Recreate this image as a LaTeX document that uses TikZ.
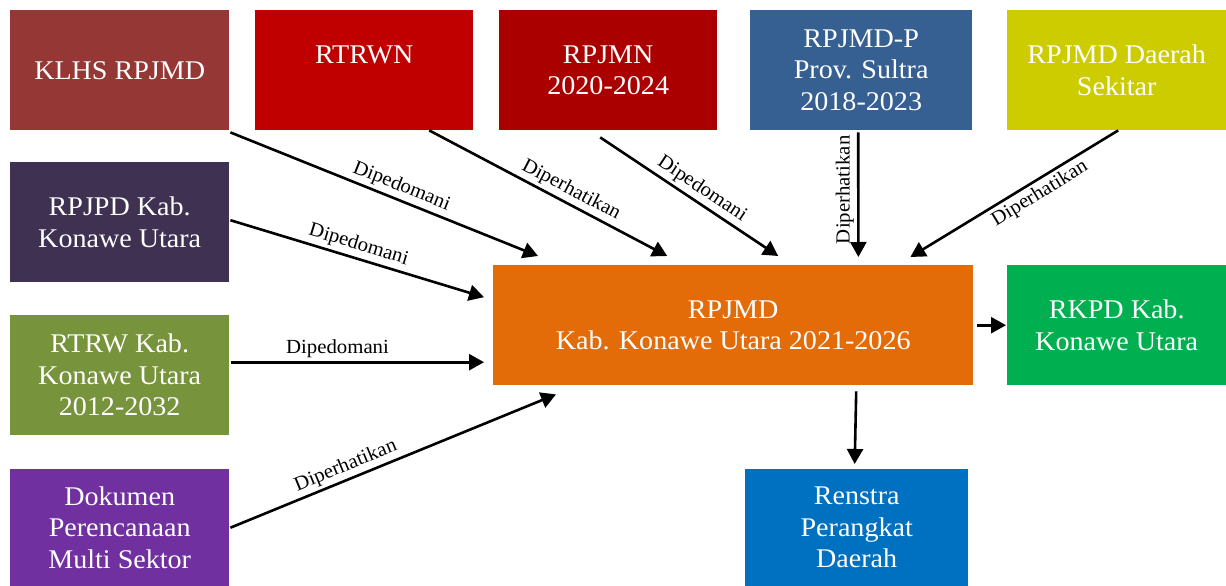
\documentclass[tikz,border=0pt]{standalone}
\usepackage{fontspec}
\setmainfont[FakeStretch=1.04]{Liberation Serif}
\usetikzlibrary{arrows.meta}
\definecolor{cklhs}{HTML}{953735}
\definecolor{crtrwn}{HTML}{C00000}
\definecolor{crpjmn}{HTML}{AA0000}
\definecolor{cprov}{HTML}{376092}
\definecolor{csekitar}{HTML}{CCCC00}
\definecolor{crpjpd}{HTML}{3F3151}
\definecolor{crtrw}{HTML}{77933C}
\definecolor{cdok}{HTML}{7030A0}
\definecolor{cmain}{HTML}{E36C09}
\definecolor{crkpd}{HTML}{00B050}
\definecolor{crenstra}{HTML}{0070C0}
\tikzset{
  docbox/.style={draw=none, text=white, inner sep=0pt, anchor=north west,
    align=center, font=\fontsize{27}{31.5}\selectfont},
  conn/.style={line width=2.6pt, -{Triangle[length=15pt,width=16pt]}},
  lbl/.style={font=\fontsize{20}{24}\selectfont, sloped, inner sep=3pt}
}
\begin{document}
\begin{tikzpicture}[x=1pt,y=-1pt]
\useasboundingbox (0,0) rectangle (1226,586);
% top row
\node[docbox, fill=cklhs, minimum width=219pt, minimum height=120pt] (klhs) at (10,10) {KLHS RPJMD};
\node[docbox, fill=crtrwn, minimum width=218pt, minimum height=120pt] (rtrwn) at (255,10) {RTRWN\\\mbox{}};
\node[docbox, fill=crpjmn, minimum width=218pt, minimum height=120pt] (rpjmn) at (499,10) {RPJMN\\2020-2024};
\node[docbox, fill=cprov, minimum width=222pt, minimum height=120pt] (prov) at (750,10) {RPJMD-P\\Prov. Sultra\\2018-2023};
\node[docbox, fill=csekitar, minimum width=219pt, minimum height=120pt] (sekitar) at (1007,10) {RPJMD Daerah\\Sekitar};
% left column
\node[docbox, fill=crpjpd, minimum width=219pt, minimum height=120pt] (rpjpd) at (10,162) {RPJPD Kab.\\Konawe Utara};
\node[docbox, fill=crtrw, minimum width=219pt, minimum height=120pt] (rtrw) at (10,315) {RTRW Kab.\\Konawe Utara\\2012-2032};
\node[docbox, fill=cdok, minimum width=219pt, minimum height=117pt] (dok) at (10,469) {Dokumen\\Perencanaan\\Multi Sektor};
% center and outputs
\node[docbox, fill=cmain, minimum width=480pt, minimum height=120pt] (main) at (493,265) {RPJMD\\Kab. Konawe Utara 2021-2026};
\node[docbox, fill=crkpd, minimum width=219pt, minimum height=120pt] (rkpd) at (1007,265) {RKPD Kab.\\Konawe Utara};
\node[docbox, fill=crenstra, minimum width=223pt, minimum height=117pt] (renstra) at (745,469) {Renstra\\Perangkat\\Daerah};
% connectors
\draw[conn] ([xshift=1pt,yshift=-2pt]klhs.south east) -- node[lbl, pos=0.54, above] {Dipedomani} ([xshift=45pt,yshift=9pt]main.north west);
\draw[conn] ([xshift=1pt,yshift=2pt]rpjpd.east) -- node[lbl, pos=0.49, above] {Dipedomani} ([xshift=-9pt,yshift=28pt]main.west);
\draw[conn] ([xshift=65pt]rtrwn.south) -- node[lbl, pos=0.57, above] {Diperhatikan} ([xshift=-66pt,yshift=9pt]main.north);
\draw[conn] ([xshift=-8pt,yshift=-7pt]rpjmn.south) -- node[lbl, pos=0.53, above] {Dipedomani} ([xshift=45pt,yshift=9pt]main.north);
\draw[conn] ([xshift=-3pt,yshift=-2pt]prov.south) -- node[font=\fontsize{20}{24}\selectfont, inner sep=3pt, pos=0.46, rotate=90, anchor=south] {Diperhatikan} ([xshift=-115pt,yshift=8pt]main.north east);
\draw[conn] ([xshift=1.5pt]sekitar.south) -- node[lbl, pos=0.41, below] {Diperhatikan} ([xshift=-63pt,yshift=8pt]main.north east);
\draw[conn] ([xshift=2pt,yshift=13pt]rtrw.east) -- node[lbl, pos=0.42, above] {Dipedomani} ([xshift=-9pt,yshift=-37pt]main.west);
\draw[conn] ([xshift=1pt]dok.east) -- node[lbl, pos=0.37, above] {Diperhatikan} ([xshift=63pt,yshift=-9pt]main.south west);
\draw[conn] ([xshift=4pt]main.east) -- ([xshift=-1pt]rkpd.west);
\draw[conn] ([xshift=123pt,yshift=-6pt]main.south) -- ([xshift=-2pt,yshift=5pt]renstra.north);
\end{tikzpicture}
\end{document}
